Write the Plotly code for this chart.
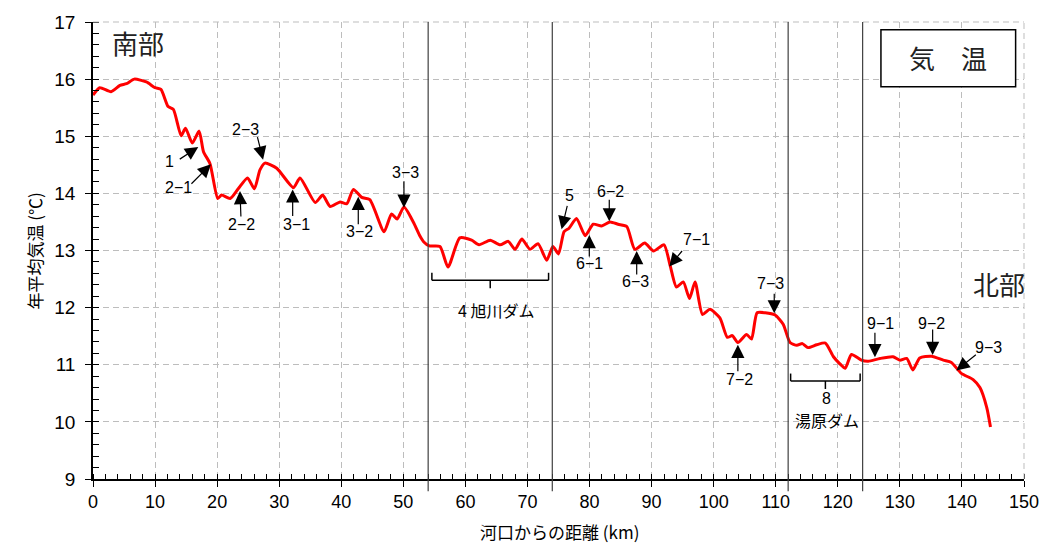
import plotly.graph_objects as go

# --- data -------------------------------------------------------------
km = [0.0, 1.1, 2.9, 4.35, 5.4, 6.65, 8.6, 10.0, 10.95, 12.1, 12.95, 14.2, 14.9, 16.0,
      17.1, 17.8, 18.85, 20.1, 20.7, 22.1, 23.4, 24.9, 26.0, 26.9, 27.7, 29.6, 32.3,
      33.35, 35.8, 37.0, 38.2, 39.8, 40.9, 41.95, 43.3, 44.6, 46.9, 48.1, 49.0, 50.1,
      51.6, 52.7, 53.3, 54.2, 55.9, 57.2, 59.1, 61.0, 62.2, 64.0, 65.6, 66.9, 68.0,
      69.1, 70.4, 71.7, 73.1, 74.1, 75.0, 75.9, 76.7, 77.9, 79.3, 80.6, 81.95, 83.3,
      84.6, 86.0, 87.3, 88.9, 90.3, 92.0, 93.0, 94.0, 95.1, 96.1, 97.0, 98.2, 99.4,
      101.0, 102.2, 103.0, 103.9, 105.3, 106.1, 107.0, 108.3, 109.9, 111.2, 112.3,
      113.4, 114.3, 115.2, 116.6, 118.0, 119.3, 120.3, 121.2, 122.2, 123.8, 124.9,
      126.8, 128.9, 130.0, 131.1, 132.1, 133.2, 135.1, 137.0, 138.3, 139.9, 141.8,
      142.9, 144.0, 144.6]
temp = [15.72, 15.85, 15.78, 15.89, 15.92, 16.00, 15.95, 15.85, 15.82, 15.52, 15.47, 15.01,
        15.14, 14.88, 15.09, 14.73, 14.52, 13.91, 13.97, 13.91, 14.08, 14.27, 14.08, 14.41,
        14.53, 14.44, 14.10, 14.27, 13.84, 13.97, 13.77, 13.85, 13.82, 14.07, 13.93, 13.89,
        13.33, 13.64, 13.55, 13.76, 13.50, 13.25, 13.15, 13.08, 13.07, 12.71, 13.22, 13.18,
        13.10, 13.18, 13.10, 13.16, 13.02, 13.20, 13.02, 13.12, 12.83, 13.07, 12.94, 13.33,
        13.39, 13.56, 13.26, 13.46, 13.43, 13.50, 13.46, 13.42, 13.02, 13.13, 12.99, 13.10,
        12.73, 12.36, 12.45, 12.16, 12.45, 11.88, 11.97, 11.82, 11.48, 11.51, 11.39, 11.53,
        11.45, 11.91, 11.91, 11.87, 11.71, 11.39, 11.34, 11.37, 11.30, 11.35, 11.38, 11.14,
        11.02, 10.94, 11.18, 11.08, 11.06, 11.11, 11.14, 11.08, 11.11, 10.91, 11.12, 11.15,
        11.08, 11.04, 10.85, 10.74, 10.60, 10.25, 9.91]

x_ticks = [0, 10, 20, 30, 40, 50, 60, 70, 80, 90, 100, 110, 120, 130, 140, 150]
y_ticks = [9, 10, 11, 12, 13, 14, 15, 16, 17]

dam_lines = [54, 74, 112, 124]

# point labels: (text, tip km, tip temp, arrow dx px, arrow dy px, text km, text temp)
point_labels = [
    ("1",   16.96, 14.81, -20, 13, 12.4, 14.55),
    ("2−1", 19.0, 14.51, -21, 21, 13.85, 14.11),
    ("2−3", 27.4, 14.59, -6, -24, 24.5, 15.12),
    ("2−2", 23.68, 14.04, 1, 27, 23.96, 13.46),
    ("3−1", 32.17, 14.07, 0, 28, 32.8, 13.45),
    ("3−2", 42.74, 13.94, 0, 29, 42.9, 13.33),
    ("3−3", 50.1, 13.75, 0, -28, 50.27, 14.36),
    ("5",   75.5, 13.37, 6, -25, 76.85, 13.96),
    ("6−1", 79.96, 13.27, 0, 23, 80.07, 12.78),
    ("6−2", 83.18, 13.51, 0, -23, 83.45, 14.03),
    ("6−3", 87.6, 12.99, 0, 25, 87.48, 12.45),
    ("7−1", 92.85, 12.72, 14, -17, 97.26, 13.20),
    ("7−2", 103.9, 11.35, 0, 28, 104.1, 10.75),
    ("7−3", 109.76, 11.90, 0, -21, 109.1, 12.43),
    ("9−1", 125.98, 11.13, 0, -26, 126.8, 11.73),
    ("9−2", 135.28, 11.17, 0, -27, 135.1, 11.73),
    ("9−3", 139.1, 10.90, 21, -17, 144.24, 11.30),
]

# dam brackets: (start km, end km, bar temp)
brackets = [(54.6, 73.4, 12.48), (112.4, 123.6, 10.716)]

LAT = "Liberation Sans, Noto Sans CJK JP, sans-serif"
JP = "Noto Sans CJK JP, sans-serif"

fig = go.Figure()
fig.add_trace(go.Scatter(x=km, y=temp, mode="lines",
                         line=dict(color="#FF0000", width=3, shape="spline", smoothing=0.6),
                         showlegend=False, hoverinfo="skip"))
# dummy trace for overlay axes
fig.add_trace(go.Scatter(x=[None], y=[None], xaxis="x2", yaxis="y2", showlegend=False))

grid = dict(showgrid=True, gridcolor="#BDBDBD", gridwidth=1, griddash="6px,4px")

fig.update_layout(
    width=1062, height=547,
    margin=dict(l=93, r=38, t=12, b=68),
    paper_bgcolor="white", plot_bgcolor="white",
    font=dict(family=LAT, size=18, color="black"),
    xaxis=dict(range=[0, 150], tickvals=x_ticks, ticks="outside", ticklen=6, tickwidth=1.2,
               tickcolor="black", showline=True, linecolor="black", linewidth=1.5,
               zeroline=False, tickfont=dict(size=18, family=LAT),
               minor=dict(dtick=2, ticks="inside", ticklen=5, tickwidth=1, tickcolor="black",
                          showgrid=False),
               **grid),
    yaxis=dict(range=[9, 17], tickvals=y_ticks, ticks="outside", ticklen=6, tickwidth=1.2,
               tickcolor="black", showline=True, linecolor="black", linewidth=1.5,
               zeroline=False, tickfont=dict(size=19, family=LAT), ticklabelstandoff=6,
               minor=dict(dtick=0.2, ticks="inside", ticklen=6, tickwidth=1, tickcolor="black",
                          showgrid=False),
               **grid),
    xaxis2=dict(overlaying="x", anchor="y", range=[0, 150], tickvals=x_ticks, ticks="inside",
                ticklen=5, tickwidth=1.2, tickcolor="black", showticklabels=False,
                showgrid=False, zeroline=False, showline=False),
    yaxis2=dict(overlaying="y", anchor="x", side="left", range=[9, 17], tickvals=y_ticks,
                ticks="inside", ticklen=6, tickwidth=1.2, tickcolor="black",
                showticklabels=False, showgrid=False, zeroline=False, showline=False),
)

shapes = []
# top / right dashed borders
shapes.append(dict(type="line", xref="paper", yref="paper", x0=0, x1=1, y0=1, y1=1,
                   line=dict(color="#BDBDBD", width=1, dash="6px,4px")))
shapes.append(dict(type="line", xref="paper", yref="paper", x0=1, x1=1, y0=0, y1=1,
                   line=dict(color="#BDBDBD", width=1, dash="6px,4px")))
# dam boundary lines
for d in dam_lines:
    shapes.append(dict(type="line", xref="x", yref="paper", x0=d, x1=d, y0=-0.027, y1=1,
                       line=dict(color="#404040", width=1.2)))
# brackets
for a, b, yb in brackets:
    lc = dict(color="black", width=1.5)
    shapes.append(dict(type="line", xref="x", yref="y", x0=a, x1=b, y0=yb, y1=yb, line=lc))
    shapes.append(dict(type="line", xref="x", yref="y", x0=a, x1=a, y0=yb, y1=yb + 0.13, line=lc))
    shapes.append(dict(type="line", xref="x", yref="y", x0=b, x1=b, y0=yb, y1=yb + 0.13, line=lc))
    m = (a + b) / 2
    shapes.append(dict(type="line", xref="x", yref="y", x0=m, x1=m, y0=yb, y1=yb - 0.14, line=lc))
# title box
shapes.append(dict(type="rect", xref="x", yref="y", x0=126.95, x1=148.65, y0=15.865, y1=16.863,
                   line=dict(color="black", width=1.5), fillcolor="white", layer="above"))
fig.update_layout(shapes=shapes)

ann = []
for t, xk, yt, dx, dy, tx, ty in point_labels:
    ann.append(dict(x=xk, y=yt, xref="x", yref="y", text="", showarrow=True,
                    ax=dx, ay=dy, arrowhead=2, arrowsize=2.2, arrowwidth=1.2,
                    arrowcolor="black", standoff=0))
    ann.append(dict(x=tx, y=ty, xref="x", yref="y", text=t, showarrow=False,
                    font=dict(family=LAT, size=16, color="black")))

ann += [
    dict(x=7.25, y=16.64, xref="x", yref="y", text="南部", showarrow=False,
         font=dict(family=JP, size=26, color="#222")),
    dict(x=146.0, y=12.43, xref="x", yref="y", text="北部", showarrow=False,
         font=dict(family=JP, size=26, color="#222")),
    dict(x=137.8, y=16.38, xref="x", yref="y", text="気　温", showarrow=False,
         font=dict(family=JP, size=26, color="#222")),
    dict(x=65.0, y=11.95, xref="x", yref="y", text="4 旭川ダム", showarrow=False,
         font=dict(family=JP, size=16, color="black")),
    dict(x=118.1, y=10.41, xref="x", yref="y", text="8", showarrow=False,
         font=dict(family=LAT, size=16, color="black")),
    dict(x=118.2, y=10.04, xref="x", yref="y", text="湯原ダム", showarrow=False,
         font=dict(family=JP, size=16, color="black")),
    dict(x=0.5016, y=-0.1156, xref="paper", yref="paper", text="河口からの距離 (km)",
         showarrow=False, yanchor="middle", font=dict(family=JP, size=17, color="black")),
    dict(x=-0.0623, y=0.5, xref="paper", yref="paper", text="年平均気温 (℃)", textangle=-90,
         showarrow=False, xanchor="center", yanchor="middle",
         font=dict(family=JP, size=17, color="black")),
]
fig.update_layout(annotations=ann)

fig.write_html("out.html")
